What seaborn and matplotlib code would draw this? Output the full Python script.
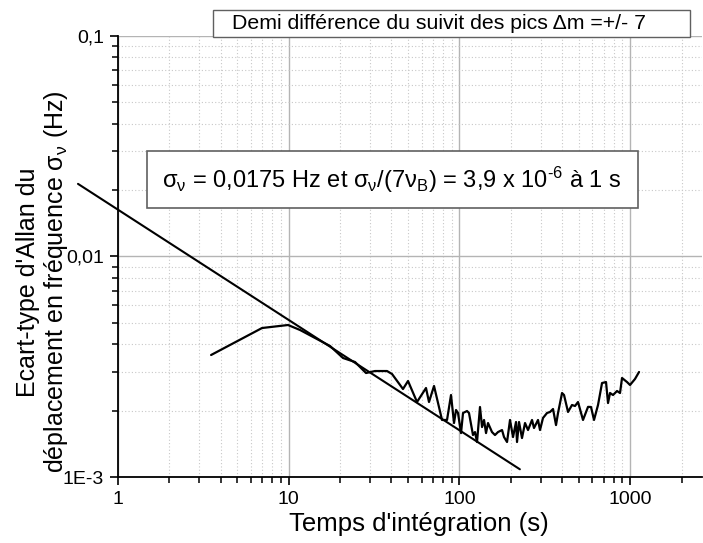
import numpy as np
import pandas as pd
import matplotlib
matplotlib.use("Agg")
import matplotlib.pyplot as plt
from matplotlib.patches import Rectangle
from matplotlib.ticker import FixedLocator, FixedFormatter, LogLocator, NullFormatter
import seaborn as sns

# ---- data ----
tau = [3.51, 6.98, 9.91, 11.65, 14.26, 17.46, 20.80, 24.46, 28.37, 32.03, 37.66, 40.29,
       46.72, 50.00, 56.44, 63.72, 66.35, 71.00, 79.10, 84.61, 89.29, 92.98, 95.53, 98.13,
       102.2, 105.0, 110.8, 113.8, 120.1, 123.4, 126.8, 132.0, 135.7, 139.4, 143.2, 147.1,
       155.2, 161.6, 168.3, 177.7, 182.5, 190.1, 197.9, 206.1, 214.6, 217.5, 223.5, 232.6,
       242.3, 252.3, 266.3, 273.5, 288.7, 296.6, 308.8, 326.0, 339.5, 353.5, 368.1, 378.2,
       399.2, 410.1, 432.8, 456.6, 475.5, 495.2, 529.7, 566.9, 590.2, 614.5, 648.6, 684.6,
       722.5, 742.3, 762.6, 794.1, 838.1, 872.7, 896.6, 959.0, 998.6, 1068, 1128]
sigma = [0.003575, 0.004739, 0.004890, 0.004642, 0.004271, 0.003928, 0.003465, 0.003323,
         0.002962, 0.003024, 0.003024, 0.002932, 0.002506, 0.002725, 0.002188, 0.002533,
         0.002188, 0.002587, 0.001814, 0.001814, 0.002354, 0.001757, 0.002013, 0.001951,
         0.001582, 0.001951, 0.001992, 0.001951, 0.001550, 0.001599, 0.001441, 0.002077,
         0.001685, 0.001814, 0.001582, 0.001757, 0.001599, 0.001550, 0.001599, 0.001633,
         0.001518, 0.001441, 0.001814, 0.001518, 0.001776, 0.001441, 0.001776, 0.001502,
         0.001757, 0.001633, 0.001814, 0.001668, 0.001814, 0.001633, 0.001852, 0.001951,
         0.001972, 0.002034, 0.001720, 0.001951, 0.002404, 0.002354, 0.001972, 0.002121,
         0.002099, 0.002188, 0.001814, 0.002080, 0.002077, 0.001814, 0.002121, 0.002668,
         0.002696, 0.002165, 0.002404, 0.002354, 0.002455, 0.002404, 0.002812, 0.002696,
         0.002614, 0.002783, 0.002994]
fit_tau = [0.583, 226.0]
fit_sigma = [0.02135, 0.001084]

x_ticks = [1, 10, 100, 1000]
x_tick_labels = ["1", "10", "100", "1000"]
y_ticks = [0.001, 0.01, 0.1]
y_tick_labels = ["1E-3", "0,01", "0,1"]

title_text = "Demi différence du suivit des pics Δm =+/- 7"
annot_text = (r"$\mathregular{σ_{ν}}$ = 0,0175 Hz et $\mathregular{σ_{ν}}$/(7$\mathregular{ν_{B}}$)"
              r" = 3,9 x 10$\mathregular{^{‐6}}$ à 1 s")
x_label = "Temps d'intégration (s)"
y_label = "Ecart-type d'Allan du\ndéplacement en fréquence $\\mathregular{σ_{ν}}$ (Hz)"

df = pd.DataFrame({"tau": tau, "sigma": sigma})
df_fit = pd.DataFrame({"tau": fit_tau, "sigma": fit_sigma})

# ---- style ----
sns.set_theme(style="white")
plt.rcParams["font.family"] = ["Liberation Sans", "DejaVu Sans"]
plt.rcParams["mathtext.fontset"] = "custom"
plt.rcParams["mathtext.rm"] = "Liberation Sans"

W, H = 703, 543
fig = plt.figure(figsize=(W / 100, H / 100), dpi=100)
ax_l, ax_r, ax_t, ax_b = 118, 702, 36, 477
ax = fig.add_axes([ax_l / W, 1 - ax_b / H, (ax_r - ax_l) / W, (ax_b - ax_t) / H])

sns.lineplot(data=df, x="tau", y="sigma", ax=ax, color="black", lw=1.6,
             estimator=None, sort=False, zorder=4)
sns.lineplot(data=df_fit, x="tau", y="sigma", ax=ax, color="black", lw=1.5,
             estimator=None, sort=False, zorder=4)
ax.lines[-1].set_clip_on(False)

ax.set_xscale("log")
ax.set_yscale("log")
ax.set_xlim(1, 2637)
ax.set_ylim(0.001, 0.1)

ax.xaxis.set_major_locator(FixedLocator(x_ticks))
ax.xaxis.set_major_formatter(FixedFormatter(x_tick_labels))
ax.yaxis.set_major_locator(FixedLocator(y_ticks))
ax.yaxis.set_major_formatter(FixedFormatter(y_tick_labels))
ax.xaxis.set_minor_locator(LogLocator(base=10, subs=np.arange(2, 10), numticks=20))
ax.yaxis.set_minor_locator(LogLocator(base=10, subs=np.arange(2, 10), numticks=20))
ax.xaxis.set_minor_formatter(NullFormatter())
ax.yaxis.set_minor_formatter(NullFormatter())

ax.grid(which="major", color="#b4b4b4", lw=1.0, ls="-")
ax.grid(which="minor", color="#c8c8c8", lw=0.8, ls=(0, (1, 2)))
ax.set_axisbelow(True)

for s in ["top", "right"]:
    ax.spines[s].set_visible(False)
for s in ["left", "bottom"]:
    ax.spines[s].set_color("black")
    ax.spines[s].set_linewidth(1.3)

ax.tick_params(which="major", direction="out", length=6, width=1.2, color="black",
               labelsize=14, pad=4, bottom=True, left=True, labelcolor="black")
ax.tick_params(which="minor", direction="out", length=4, width=1.1, color="black",
               bottom=True, left=True)

ax.set_xlabel(x_label, fontsize=18.5, color="black")
ax.xaxis.set_label_coords((419 - ax_l) / (ax_r - ax_l), (ax_b - 524) / (ax_b - ax_t))
ax.xaxis.label.set_va("center")
ax.set_ylabel(y_label, fontsize=18, color="black", linespacing=1.05)
ax.yaxis.set_label_coords((43 - ax_l) / (ax_r - ax_l), (ax_b - 282) / (ax_b - ax_t))
ax.yaxis.label.set_va("center")
ax.yaxis.label.set_multialignment("center")

# title box
fig.patches.append(Rectangle((213 / W, 1 - 37 / H), (690 - 213) / W, 27 / H,
                             transform=fig.transFigure, fill=True, fc="white",
                             ec="#606060", lw=1.0, zorder=5))
fig.text(439 / W, 1 - 23.5 / H, title_text, ha="center", va="center",
         fontsize=15.3, color="black", zorder=6)

# annotation box
fig.patches.append(Rectangle((147 / W, 1 - 208 / H), (638 - 147) / W, (208 - 151) / H,
                             transform=fig.transFigure, fill=True, fc="white",
                             ec="#606060", lw=1.2, zorder=5))
fig.text(392 / W, 1 - 180 / H, annot_text, ha="center", va="center",
         fontsize=17, color="black", zorder=6)

fig.savefig("out.png", dpi=100)
